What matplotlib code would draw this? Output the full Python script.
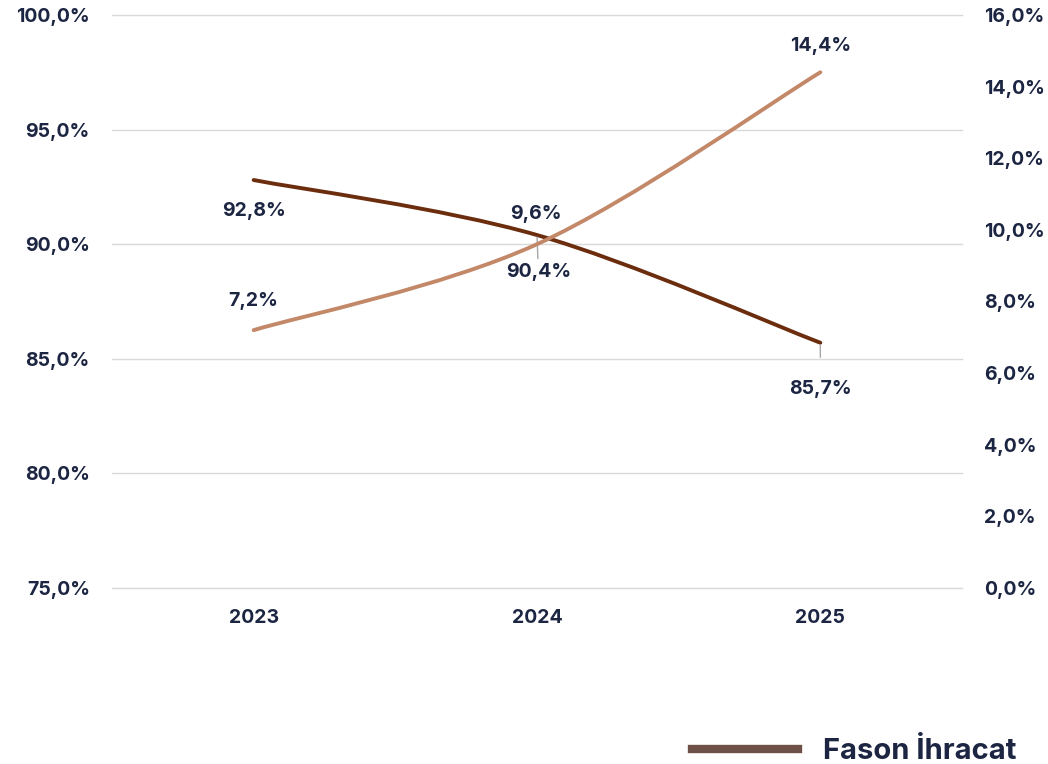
import matplotlib.pyplot as plt
import numpy as np
from matplotlib.path import Path
from matplotlib.patches import PathPatch
from matplotlib.lines import Line2D

plt.rcParams['font.family'] = ['Inter', 'DejaVu Sans']
plt.rcParams['font.weight'] = 'bold'

years = ['2023', '2024', '2025']
fason = [92.8, 90.4, 85.7]      # left axis
other = [7.2, 9.6, 14.4]        # right axis
fason_labels = ['92,8%', '90,4%', '85,7%']
other_labels = ['7,2%', '9,6%', '14,4%']
left_ticks = [75, 80, 85, 90, 95, 100]
right_ticks = [0, 2, 4, 6, 8, 10, 12, 14, 16]

dark = '#6B2D0E'
light = '#C38868'
text_c = '#1C2541'


def smooth_path(xs, ys):
    pts = np.column_stack([xs, ys]).astype(float)
    ext = np.vstack([pts[0], pts, pts[-1]])
    verts = [pts[0]]
    codes = [Path.MOVETO]
    for i in range(len(pts) - 1):
        p0, p1, p2, p3 = ext[i], ext[i + 1], ext[i + 2], ext[i + 3]
        c1 = p1 + (p2 - p0) / 6
        c2 = p2 - (p3 - p1) / 6
        verts += [c1, c2, p2]
        codes += [Path.CURVE4] * 3
    return Path(verts, codes)


fig = plt.figure(figsize=(10.48, 7.64), dpi=100)
ax = fig.add_axes([112 / 1048, 1 - 588 / 764, 850 / 1048, 573 / 764])
ax2 = ax.twinx()

x = np.arange(len(years))
ax.add_patch(PathPatch(smooth_path(x, fason), fill=False, edgecolor=dark,
                       lw=2.8, capstyle='round', zorder=3))
ax2.add_patch(PathPatch(smooth_path(x, other), fill=False, edgecolor=light,
                        lw=2.8, capstyle='round', zorder=3))

ax.set_xlim(-0.5, 2.5)
ax.set_ylim(75, 100)
ax2.set_ylim(0, 16)
ax.set_yticks(left_ticks)
ax.set_yticklabels([f'{v:.1f}%'.replace('.', ',') for v in left_ticks])
ax2.set_yticks(right_ticks)
ax2.set_yticklabels([f'{v:.1f}%'.replace('.', ',') for v in right_ticks])
ax.set_xticks(x)
ax.set_xticklabels(years)

ax.grid(axis='y', color='#D9D9D9', lw=1)
for gl in ax.get_ygridlines():
    gl.set_clip_on(False)
ax.set_axisbelow(True)
for a in (ax, ax2):
    for s in a.spines.values():
        s.set_visible(False)
    a.tick_params(length=0, labelsize=14, labelcolor=text_c)
ax.tick_params(axis='y', pad=16)
ax.tick_params(axis='x', pad=15)
ax2.tick_params(axis='y', pad=16)

# data labels
fason_off = [(0, -22), (1, -26.5), (0, -33)]
fason_shrink = [0, 1, 14]
other_off = [(0, 21), (-1, 21.5), (0, 19)]
for i in range(3):
    lead = None
    if i > 0:
        lead = dict(arrowstyle='-', color='#A6A6A6', lw=1,
                    shrinkA=fason_shrink[i], shrinkB=1.5)
    ax.annotate(fason_labels[i], (x[i], fason[i]), xytext=fason_off[i],
                textcoords='offset points', ha='center', va='center',
                fontsize=14, color=text_c, arrowprops=lead)
    ax2.annotate(other_labels[i], (x[i], other[i]), xytext=other_off[i],
                 textcoords='offset points', ha='center', va='center',
                 fontsize=14, color=text_c)

fig.legend(handles=[Line2D([], [], color='#6E5046', lw=6)], labels=['Fason İhracat'],
           loc='lower right', bbox_to_anchor=(0.995, -0.036), frameon=False,
           fontsize=21, handlelength=3.65, handletextpad=0.85, labelcolor=text_c)

fig.savefig('out.png', dpi=100)
